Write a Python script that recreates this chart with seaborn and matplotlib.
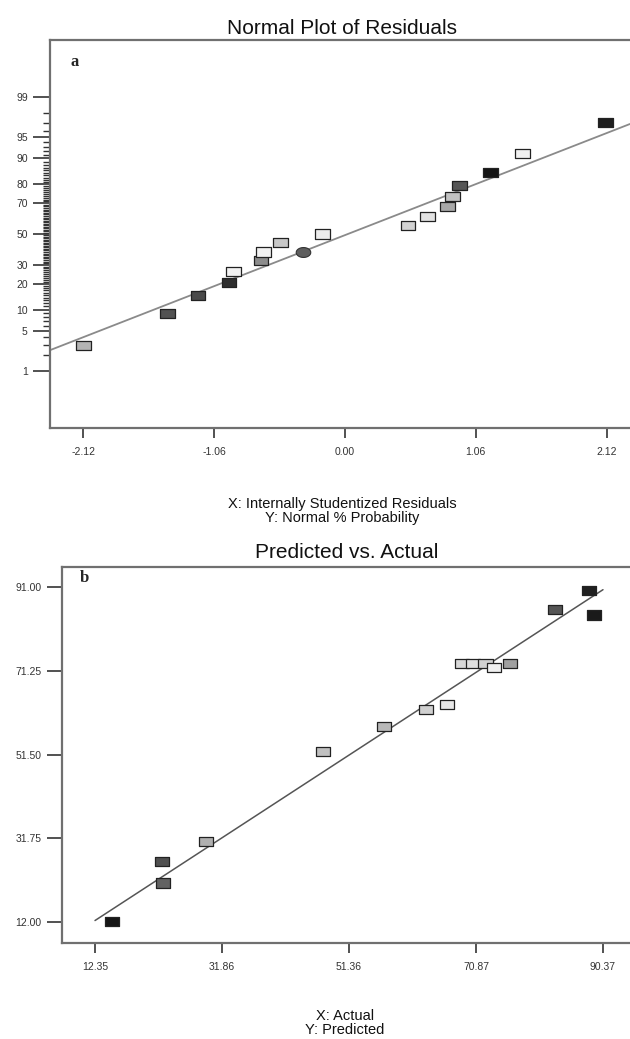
import numpy as np
import matplotlib
matplotlib.use("Agg")
import matplotlib.pyplot as plt
from matplotlib.path import Path
from matplotlib.ticker import FixedLocator, NullFormatter
import seaborn as sns
import pandas as pd
from statistics import NormalDist

# ---------------- data: (a) normal plot of residuals ----------------
resid_x = [-2.12, -1.44, -1.19, -0.94, -0.905, -0.68, -0.66, -0.52, -0.18,
           0.51, 0.67, 0.83, 0.87, 0.93, 1.18, 1.44, 2.11]
resid_p = [2.96, 8.9, 14.9, 20.6, 26.3, 32.6, 38.0, 44.4, 50.0,
           55.6, 61.7, 67.9, 73.6, 79.4, 85.0, 91.3, 97.1]
resid_fill = ["#b4b4b4", "#525252", "#4a4a4a", "#2e2e2e", "#f2f2f2", "#8c8c8c",
              "#f2f2f2", "#c8c8c8", "#ececec", "#d2d2d2", "#e2e2e2", "#a8a8a8",
              "#c2c2c2", "#565656", "#151515", "#f0f0f0", "#1e1e1e"]
circ_x = [-0.34]
circ_p = [38.3]
fit_a_x = [-2.39, 2.31]
fit_a_p = [2.44, 96.9]
prob_major = [1, 5, 10, 20, 30, 50, 70, 80, 90, 95, 99]
resid_xticks = [-2.12, -1.06, 0.00, 1.06, 2.12]

# ---------------- data: (b) predicted vs actual ----------------
actual = [14.96, 22.64, 22.8, 29.4, 47.37, 56.74, 63.2, 66.4, 68.7, 70.4,
          72.3, 73.6, 76.1, 83.0, 88.2, 89.0]
predicted = [12.2, 26.2, 21.2, 31.1, 52.1, 58.2, 62.2, 63.2, 72.9, 72.9,
             72.9, 72.1, 72.9, 85.8, 90.1, 84.4]
pred_fill = ["#161616", "#505050", "#626262", "#b0b0b0", "#c0c0c0", "#b8b8b8",
             "#d0d0d0", "#e8e8e8", "#d8d8d8", "#e0e0e0", "#d0d0d0", "#f0f0f0",
             "#a0a0a0", "#555555", "#202020", "#1a1a1a"]
fit_b_x = [12.35, 90.37]
fit_b_y = [12.35, 90.37]
act_ticks = [12.35, 31.86, 51.36, 70.87, 90.37]
pred_ticks = [12.00, 31.75, 51.50, 71.25, 91.00]

# ---------------- style ----------------
sns.set_style("white")
plt.rcParams["font.family"] = ["Liberation Sans", "DejaVu Sans"]

fig = plt.figure(figsize=(6.30, 10.39), dpi=100)
ax1 = fig.add_axes([50 / 630, 611 / 1039, 580 / 630, 388 / 1039])
ax2 = fig.add_axes([62 / 630, 96 / 1039, 568 / 630, 376 / 1039])

rect = Path([(-1, -0.62), (1, -0.62), (1, 0.62), (-1, 0.62), (-1, -0.62)],
            [Path.MOVETO, Path.LINETO, Path.LINETO, Path.LINETO, Path.CLOSEPOLY])
t = np.linspace(0, 2 * np.pi, 40)
ell = Path(np.column_stack([np.cos(t), 0.68 * np.sin(t)]))

nd = NormalDist()
_ppf = np.vectorize(lambda v: nd.inv_cdf(v / 100.0) if np.isfinite(v) else np.nan,
                    otypes=[float])
_cdf = np.vectorize(lambda v: nd.cdf(v) * 100.0 if not np.isnan(v) else np.nan,
                    otypes=[float])


def fwd(p):
    p = np.clip(np.asarray(p, dtype=float), 1e-6, 100 - 1e-6)
    if p.size == 0:
        return p
    return _ppf(p)


def inv(z):
    z = np.asarray(z, dtype=float)
    if z.size == 0:
        return z
    return _cdf(z)


# ---------------- panel a ----------------
ax1.set_yscale("function", functions=(fwd, inv))
dfa = pd.DataFrame({"x": resid_x, "p": resid_p})
dfl = pd.DataFrame({"x": fit_a_x, "p": fit_a_p})
sns.lineplot(data=dfl, x="x", y="p", ax=ax1, color="#8a8a8a", lw=1.3, zorder=2)
sns.scatterplot(data=dfa, x="x", y="p", ax=ax1, marker=rect, s=110,
                c=resid_fill, edgecolor="#222222", linewidth=0.9, zorder=3)
sns.scatterplot(x=circ_x, y=circ_p, ax=ax1, marker=ell, s=110,
                color="#5e5e5e", edgecolor="#333333", linewidth=0.8, zorder=3)
ax1.set_xlim(-2.39, 2.31)
ax1.set_ylim(0.05, 99.95)
ax1.yaxis.set_major_locator(FixedLocator(prob_major))
ax1.set_yticklabels([str(v) for v in prob_major])
minor = [v for v in range(1, 100) if v not in prob_major]
ax1.yaxis.set_minor_locator(FixedLocator(minor))
ax1.yaxis.set_minor_formatter(NullFormatter())
ax1.set_xticks(resid_xticks)
ax1.set_xticklabels([f"{v:.2f}" for v in resid_xticks])
ax1.tick_params(axis="y", which="major", length=12, width=1.2, color="#333333",
                pad=4, labelsize=7.5, labelcolor="#333333", left=True)
ax1.tick_params(axis="y", which="minor", length=5, width=1.0, color="#333333", left=True)
ax1.tick_params(axis="x", which="major", length=7, width=1.2, color="#333333",
                pad=7, labelsize=7.5, labelcolor="#333333", bottom=True)
ax1.set_xlabel("")
ax1.set_ylabel("")
ax1.text(0.043, 0.943, "a", transform=ax1.transAxes, fontsize=12,
         fontweight="bold", family="Liberation Serif", ha="center", va="center")

# ---------------- panel b ----------------
dfb = pd.DataFrame({"actual": actual, "predicted": predicted})
dfbl = pd.DataFrame({"x": fit_b_x, "y": fit_b_y})
sns.lineplot(data=dfbl, x="x", y="y", ax=ax2, color="#555555", lw=1.1, zorder=2)
sns.scatterplot(data=dfb, x="actual", y="predicted", ax=ax2, marker=rect, s=110,
                c=pred_fill, edgecolor="#222222", linewidth=0.9, zorder=3)
ax2.set_xlim(7.28, 94.52)
ax2.set_ylim(7.05, 95.72)
ax2.set_xticks(act_ticks)
ax2.set_xticklabels([f"{v:.2f}" for v in act_ticks])
ax2.set_yticks(pred_ticks)
ax2.set_yticklabels([f"{v:.2f}" for v in pred_ticks])
ax2.tick_params(axis="y", length=11, width=1.2, color="#333333", pad=4,
                labelsize=7.5, labelcolor="#333333", left=True)
ax2.tick_params(axis="x", length=7, width=1.2, color="#333333", pad=7,
                labelsize=7.5, labelcolor="#333333", bottom=True)
ax2.set_xlabel("")
ax2.set_ylabel("")
ax2.text(0.04, 0.971, "b", transform=ax2.transAxes, fontsize=12,
         fontweight="bold", family="Liberation Serif", ha="center", va="center")

for ax in (ax1, ax2):
    ax.spines["right"].set_visible(False)
    for s in ("left", "bottom", "top"):
        ax.spines[s].set_color("#707070")
        ax.spines[s].set_linewidth(1.6)

# ---------------- titles and axis descriptions ----------------
fig.text(342 / 630, 1 - 28 / 1039, "Normal Plot of Residuals", fontsize=15,
         ha="center", va="center", color="#111111")
fig.text(342 / 630, 1 - 511 / 1039,
         "X: Internally Studentized Residuals\nY: Normal % Probability",
         fontsize=10.5, ha="center", va="center", linespacing=1.05, color="#111111")
fig.text(347 / 630, 1 - 553 / 1039, "Predicted vs. Actual", fontsize=15,
         ha="center", va="center", color="#111111")
fig.text(345 / 630, 1 - 1023 / 1039, "X: Actual\nY: Predicted",
         fontsize=10.5, ha="center", va="center", linespacing=1.05, color="#111111")

fig.savefig("out.png", dpi=100)
